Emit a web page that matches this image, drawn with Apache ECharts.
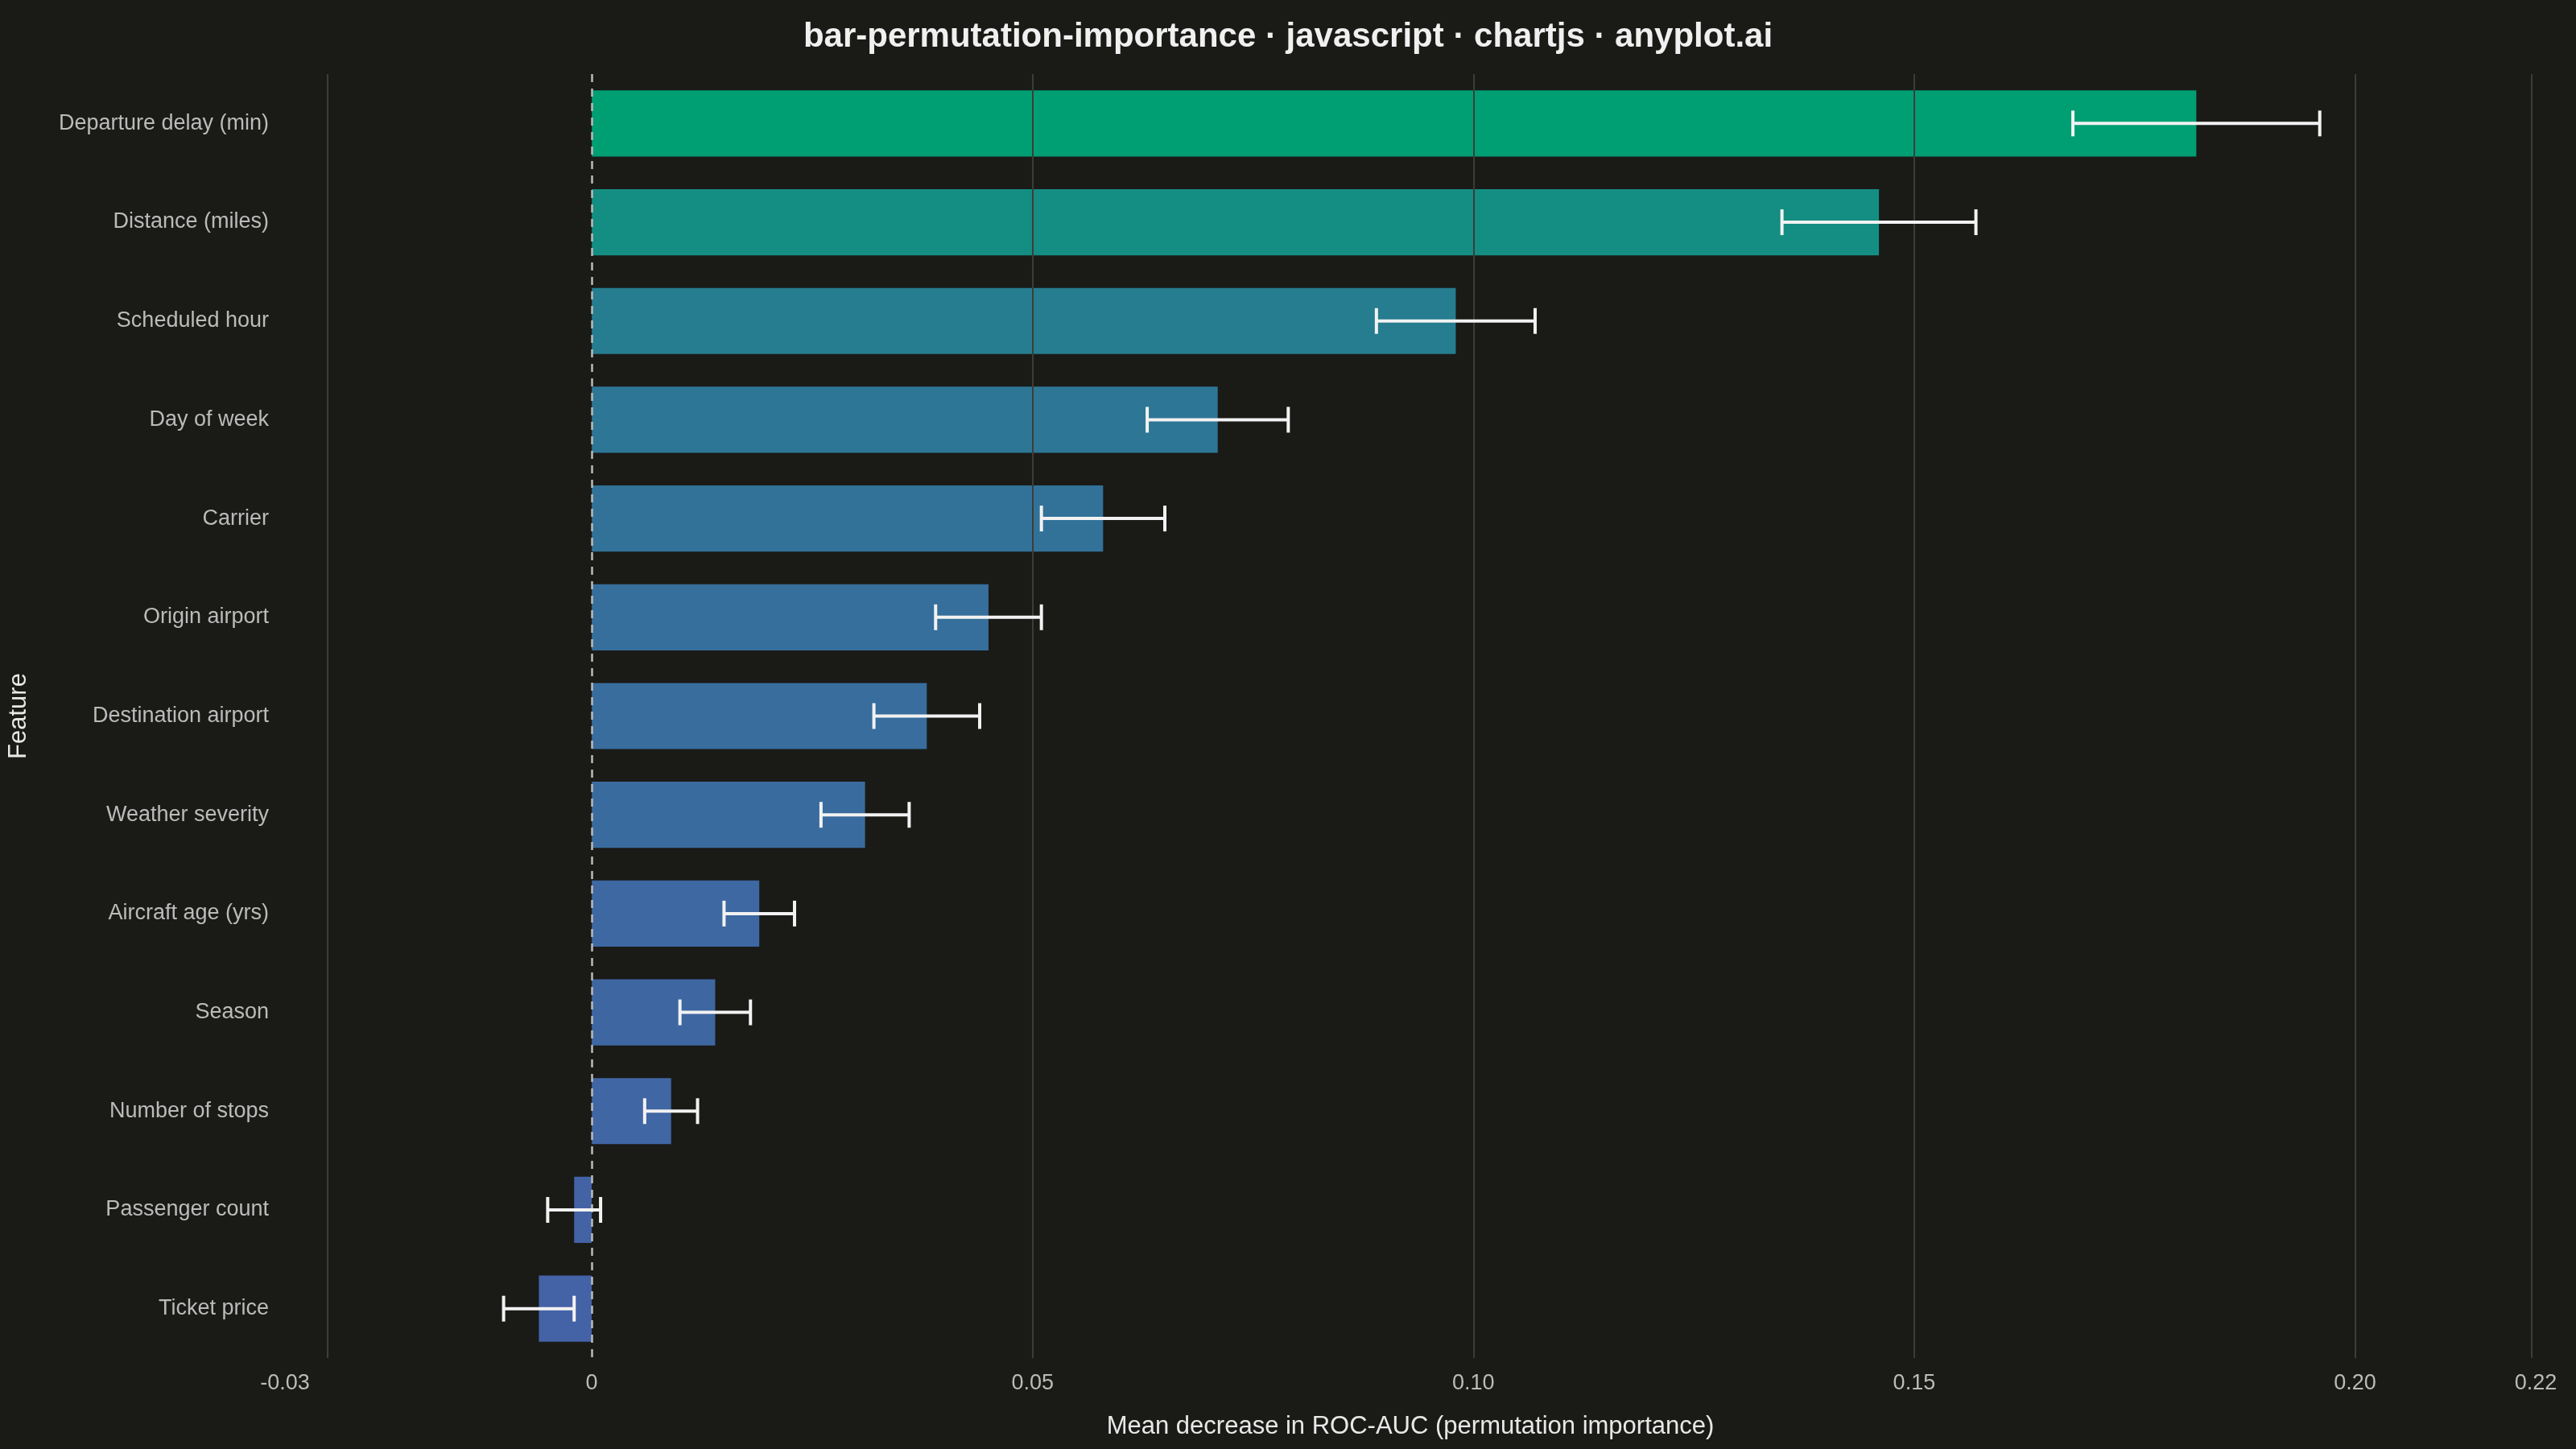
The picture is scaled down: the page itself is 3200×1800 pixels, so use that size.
<!DOCTYPE html>
<html lang="en">
<head>
<meta charset="UTF-8">
<title>bar-permutation-importance</title>
<style>
    * { margin: 0; padding: 0; }
    body { background: #1a1a17; }
    #chart { width: 3200px; height: 1800px; }
</style>
</head>
<body>
<div id="chart"></div>
<script src="https://cdn.jsdelivr.net/npm/echarts@6/dist/echarts.min.js"></script>
<script>
var features = ['Departure delay (min)', 'Distance (miles)', 'Scheduled hour', 'Day of week', 'Carrier',
    'Origin airport', 'Destination airport', 'Weather severity', 'Aircraft age (yrs)', 'Season',
    'Number of stops', 'Passenger count', 'Ticket price'];
var importance = [0.182, 0.146, 0.098, 0.071, 0.058, 0.045, 0.038, 0.031, 0.019, 0.014, 0.009, -0.002, -0.006];
var stdDev = [0.014, 0.011, 0.009, 0.008, 0.007, 0.006, 0.006, 0.005, 0.004, 0.004, 0.003, 0.003, 0.004];
var axisMin = -0.0348, axisMax = 0.2205;
var tickValues = [axisMin, 0, 0.05, 0.10, 0.15, 0.20, axisMax];

// colour ramp from green (largest) to blue (smallest), by value
var vMax = Math.max.apply(null, importance), vMin = Math.min.apply(null, importance);
function mix(a, b, t) {
    var r = [];
    for (var i = 0; i < 3; i++) r.push(Math.round(a[i] + (b[i] - a[i]) * t));
    return 'rgb(' + r.join(',') + ')';
}
var barData = importance.map(function (v) {
    var t = (vMax - v) / (vMax - vMin);
    return { value: v, itemStyle: { color: mix([0, 158, 115], [68, 98, 166], Math.pow(t, 0.75)) } };
});
var errData = importance.map(function (v, i) { return [i, v - stdDev[i], v + stdDev[i]]; });

var gridLines = tickValues.filter(function (v) { return v !== 0; }).map(function (v) { return { xAxis: v }; });

var chart = echarts.init(document.getElementById('chart'));
chart.setOption({
    backgroundColor: '#1a1a17',
    textStyle: { fontFamily: 'Liberation Sans, Arial, sans-serif' },
    title: {
        text: 'bar-permutation-importance · javascript · chartjs · anyplot.ai',
        left: 'center', top: 20,
        textStyle: { color: '#f0f0f0', fontSize: 42, fontWeight: 'bold' }
    },
    grid: { left: 351, right: 50, top: 92, bottom: 113 },
    xAxis: {
        type: 'value', min: axisMin, max: axisMax,
        name: 'Mean decrease in ROC-AUC (permutation importance)',
        nameLocation: 'middle', nameGap: 70,
        nameTextStyle: { color: '#e8e8e8', fontSize: 31 },
        axisLine: { show: false },
        axisTick: { show: false },
        splitLine: { show: false },
        axisLabel: {
            customValues: tickValues, color: '#bbbbbb', fontSize: 27, margin: 18,
            formatter: function (v) {
                if (v === 0) return '0';
                if (v < 0) return '-0.03';
                return v.toFixed(2);
            }
        }
    },
    yAxis: {
        type: 'category', data: features, inverse: true,
        name: 'Feature', nameLocation: 'middle', nameGap: 315,
        nameTextStyle: { color: '#e8e8e8', fontSize: 31 },
        axisLine: { show: false }, axisTick: { show: false },
        axisLabel: { color: '#bbbbbb', fontSize: 27, margin: 20 }
    },
    series: [{
        type: 'bar', data: [], z: 1, barGap: '-100%',
        markLine: {
            silent: true, symbol: 'none', label: { show: false },
            data: gridLines,
            lineStyle: { color: '#3d3d38', type: 'solid', width: 2 }
        }
    }, {
        type: 'bar', data: barData, barWidth: '67%', z: 3
    }, {
        type: 'custom', z: 5,
        data: errData,
        renderItem: function (params, api) {
            var lo = api.coord([api.value(1), api.value(0)]);
            var hi = api.coord([api.value(2), api.value(0)]);
            var h = 16;
            var style = { stroke: '#f2f2f2', lineWidth: 4 };
            return {
                type: 'group', children: [
                    { type: 'line', shape: { x1: lo[0], y1: lo[1], x2: hi[0], y2: hi[1] }, style: style },
                    { type: 'line', shape: { x1: lo[0], y1: lo[1] - h, x2: lo[0], y2: lo[1] + h }, style: style },
                    { type: 'line', shape: { x1: hi[0], y1: hi[1] - h, x2: hi[0], y2: hi[1] + h }, style: style }
                ]
            };
        },
        markLine: {
            silent: true, symbol: 'none', label: { show: false },
            data: [{ xAxis: 0 }],
            lineStyle: { color: '#bbbbbb', type: [10, 8], width: 2.5 }
        }
    }]
});
</script>
</body>
</html>
